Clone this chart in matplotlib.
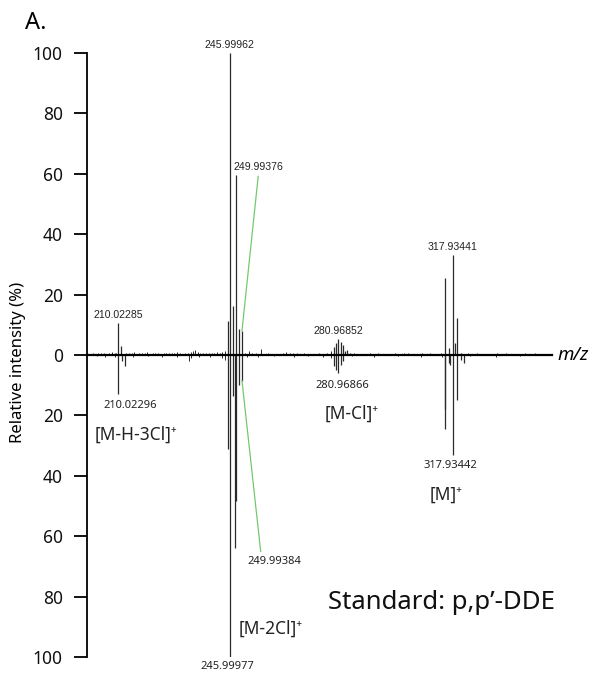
import numpy as np
import matplotlib
matplotlib.use("Agg")
import matplotlib.pyplot as plt

plt.rcParams['font.family'] = ['Noto Sans', 'DejaVu Sans']

# ==========================================
# Data (m/z, relative intensity %)
# ==========================================
# upper trace: standard, lower trace: sample (negative = drawn downward)
std_mz = [210.02285, 211.07, 245.45, 245.99962, 246.97, 247.94, 248.9, 249.99376,
          279.65, 280.43, 280.96852, 281.8, 282.55, 283.2, 283.97, 284.7,
          315.6, 316.75, 317.93441, 318.6, 319.5, 320.5]
std_int = [10.5, 3.0, 11.2, 100.0, 16.3, 59.5, 8.6, 8.0,
           2.5, 4.0, 5.3, 4.4, 3.3, 1.2, 1.6, 0.8,
           25.5, 2.2, 33.2, 4.1, 12.3, 0.8]

smp_mz = [210.02296, 211.4, 212.14, 245.45, 245.99977, 246.97, 247.75, 247.94, 248.9, 249.99384,
          279.65, 280.43, 280.96866, 281.8, 282.55,
          315.5, 315.6, 316.75, 317.07, 317.93442, 319.5, 320.5, 321.6]
smp_int = [-12.9, -1.9, -3.8, -31.0, -100.0, -13.5, -64.0, -48.5, -10.0, -8.5,
           -3.8, -5.0, -6.0, -3.3, -2.1,
           -18.0, -24.5, -2.7, -3.3, -33.0, -14.9, -1.6, -2.7]

noise_top_mz = [
    201.8, 202.9, 203.7, 204.6, 205.4, 206.3, 207.1, 208.0, 208.9, 209.5,
    212.6, 213.5, 214.4, 215.3, 216.0, 216.9, 217.8, 218.7, 219.5, 220.4,
    221.3, 222.0, 222.9, 223.8, 224.7, 225.5, 226.4, 227.3, 228.2, 229.1,
    230.0, 230.8, 231.7, 232.6, 233.4, 234.3, 235.0, 235.7, 236.6, 237.5,
    238.4, 239.3, 240.2, 241.0, 241.9, 242.8, 243.7, 244.5, 250.9, 252.2,
    253.1, 254.5, 256.2, 258.4, 261.0, 263.2, 264.3, 265.4, 266.6, 267.8,
    270.1, 272.6, 275.0, 277.3, 278.6, 286.0, 288.4, 291.2, 294.0, 296.5,
    299.3, 302.1, 303.5, 305.8, 308.2, 310.6, 313.1, 314.2, 322.8, 325.9,
    329.0, 332.4, 335.1, 338.0, 341.3, 344.5, 347.2]
noise_top_int = [
    0.6, 0.4, 0.7, 0.5, 0.8, 0.4, 0.6, 0.9, 0.5, 0.7,
    0.6, 0.5, 0.8, 1.0, 0.4, 0.7, 0.5, 0.6, 0.9, 0.4,
    0.5, 0.7, 0.6, 0.4, 0.8, 0.5, 0.6, 0.7, 0.5, 0.9,
    0.6, 0.4, 0.8, 0.7, 0.9, 1.3, 1.6, 1.1, 0.7, 0.5,
    0.6, 0.8, 0.5, 0.7, 0.9, 0.6, 1.0, 1.2, 0.8, 1.3,
    0.6, 0.5, 2.0, 0.6, 0.4, 0.7, 0.9, 0.6, 0.8, 0.5,
    0.6, 0.4, 0.7, 0.5, 1.2, 0.5, 0.4, 0.6, 0.5, 0.4,
    0.6, 0.5, 0.8, 0.4, 0.5, 0.6, 0.4, 0.7, 0.6, 0.5,
    0.4, 0.6, 0.5, 0.4, 0.6, 0.5, 0.4]

noise_bot_mz = [203.2, 205.9, 209.0, 214.8, 219.6, 224.1, 228.9, 232.9, 233.6, 236.2,
                239.8, 243.6, 244.4, 251.5, 255.3, 260.2, 266.9, 271.4, 276.2, 278.8,
                285.6, 292.5, 300.4, 307.7, 314.6, 323.5, 331.8, 339.6]
noise_bot_int = [-0.4, -0.5, -0.6, -0.5, -0.4, -0.6, -0.5, -2.0, -1.0, -0.5,
                 -0.6, -1.0, -1.5, -0.6, -0.5, -0.4, -0.5, -0.4, -0.6, -0.9,
                 -0.4, -0.5, -0.4, -0.5, -0.6, -0.4, -0.5, -0.4]

yticks = [-100, -80, -60, -40, -20, 0, 20, 40, 60, 80, 100]

# labelled peaks: (m/z, text offset in points)
top_labels = {210.02285: (0, 5.8), 245.99962: (0, 5.8), 280.96852: (0, 5.8), 317.93441: (0, 5.8)}
bot_labels = {210.02296: (8.6, -8.0), 245.99977: (-1.8, -7.0), 280.96866: (3.2, -9.0), 317.93442: (-1.5, -7.5)}

ion_labels = ["[M-H-3Cl]\u207a", "[M-2Cl]\u207a", "[M-Cl]\u207a", "[M]\u207a"]
ion_pos = [(215.8, -26.5), (259.3, -90.7), (285.5, -19.5), (315.8, -46.4)]

# ==========================================
# Plot
# ==========================================
fig = plt.figure(figsize=(5.96, 6.75), dpi=100)
ax = fig.add_axes([87 / 596, 1 - 657 / 675, 465 / 596, 604 / 675])
ax.set_xlim(200, 350)
ax.set_ylim(-100, 100)

peak_col = '#2a2a2a'
ax.vlines(noise_top_mz, 0, noise_top_int, color=peak_col, lw=0.7)
ax.vlines(noise_bot_mz, 0, noise_bot_int, color=peak_col, lw=0.7)
ax.vlines(std_mz, 0, std_int, color=peak_col, lw=0.9)
ax.vlines(smp_mz, 0, smp_int, color=peak_col, lw=0.9)
ax.plot([200, 350], [0, 0], color='black', lw=1.6, zorder=4, clip_on=False)

for mz, (dx, dy) in top_labels.items():
    h = std_int[std_mz.index(mz)]
    ax.annotate(f"{mz:.5f}", xy=(mz, h), xytext=(dx, dy), textcoords='offset points',
                ha='center', va='center', fontsize=7.6, family='Liberation Sans',
                color='#222222', annotation_clip=False)

for mz, (dx, dy) in bot_labels.items():
    h = smp_int[smp_mz.index(mz)]
    ax.annotate(f"{mz:.5f}", xy=(mz, h), xytext=(dx, dy), textcoords='offset points',
                ha='center', va='center', fontsize=8, color='#222222',
                annotation_clip=False)

# green leader lines to the 250 isotope peaks
green = '#74c96f'
mz = 249.99376
ax.annotate(f"{mz:.5f}", xy=(mz, std_int[std_mz.index(mz)]), xytext=(12, 118),
            textcoords='offset points', ha='center', va='center', fontsize=7.6,
            family='Liberation Sans', color='#222222',
            arrowprops=dict(arrowstyle='-', color=green, lw=0.9, shrinkA=1, shrinkB=0,
                            relpos=(0.5, 0.0)))
mz = 249.99384
ax.annotate(f"{mz:.5f}", xy=(mz, smp_int[smp_mz.index(mz)]), xytext=(23.5, -130),
            textcoords='offset points', ha='center', va='center', fontsize=8,
            color='#222222',
            arrowprops=dict(arrowstyle='-', color=green, lw=0.9, shrinkA=1, shrinkB=0,
                            relpos=(0.25, 1.0)))

for txt, (x, y) in zip(ion_labels, ion_pos):
    ax.text(x, y, txt, ha='center', va='center', fontsize=12.5, color='#222222')

ax.text(277.7, -81.8, "Standard: p,p\u2019-DDE", ha='left', va='center', fontsize=18.5,
        color='#111111')
ax.text(351.9, 0, "m/z", ha='left', va='center', fontsize=13.5, style='italic',
        clip_on=False)

for s in ['top', 'right', 'bottom']:
    ax.spines[s].set_visible(False)
ax.spines['left'].set_linewidth(1.3)
ax.set_xticks([])
ax.set_yticks(yticks)
ax.set_yticklabels([str(abs(v)) for v in yticks])
ax.tick_params(axis='y', direction='out', length=9.4, width=1.3, labelsize=12.5, pad=8,
               labelcolor='#111111')

fig.text(18.5 / 596, 1 - 362 / 675, "Relative intensity (%)", rotation=90,
         ha='center', va='center', fontsize=12)
fig.text(25 / 596, 1 - 23 / 675, "A.", ha='left', va='center', fontsize=17)

fig.savefig("out.png", dpi=100)
